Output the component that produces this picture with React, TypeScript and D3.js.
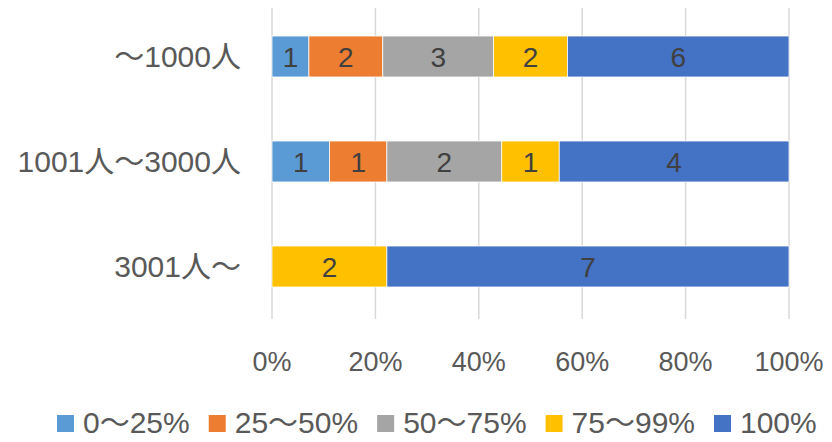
import React, { useEffect, useRef } from "react";
import * as d3 from "d3";

const categories = ["～1000人", "1001人～3000人", "3001人～"];
const seriesNames = ["0～25%", "25～50%", "50～75%", "75～99%", "100%"];
const seriesColors = ["#5B9BD5", "#ED7D31", "#A5A5A5", "#FFC000", "#4472C4"];
const s0 = [1, 1, 0];
const s1 = [2, 1, 0];
const s2 = [3, 2, 0];
const s3 = [2, 1, 2];
const s4 = [6, 4, 7];
const tickValues = [0, 0.2, 0.4, 0.6, 0.8, 1];

const W = 832;
const H = 442;
const FONT = "'Liberation Sans', 'Noto Sans CJK JP', sans-serif";

export default function App() {
  const ref = useRef<SVGSVGElement>(null);

  useEffect(() => {
    const svg = d3.select(ref.current);
    svg.selectAll("*").remove();

    const series = [s0, s1, s2, s3, s4];
    const rows = categories.map((c, i) => {
      const o: any = { cat: c };
      seriesNames.forEach((n, k) => (o[n] = series[k][i]));
      return o;
    });
    const stacked = d3.stack<any>().keys(seriesNames).offset(d3.stackOffsetExpand)(rows);

    const x = d3.scaleLinear().domain([0, 1]).range([272, 789]);
    const y = d3.scaleBand().domain(categories).range([4, 319]).paddingInner(0.61).paddingOuter(0.305);

    // gridlines
    svg.append("g")
      .selectAll("line")
      .data(tickValues)
      .join("line")
      .attr("x1", (d) => x(d))
      .attr("x2", (d) => x(d))
      .attr("y1", 4)
      .attr("y2", 319)
      .attr("stroke", "#D9D9D9")
      .attr("stroke-width", 1.5);

    // bars
    const layer = svg.append("g")
      .selectAll("g")
      .data(stacked)
      .join("g")
      .attr("fill", (d, i) => seriesColors[i]);

    layer.selectAll("rect")
      .data((d) => d.map((v) => ({ v, key: d.key })))
      .join("rect")
      .attr("x", (d) => x(d.v[0]))
      .attr("width", (d) => x(d.v[1]) - x(d.v[0]))
      .attr("y", (d) => y(d.v.data.cat)!)
      .attr("height", y.bandwidth())
      .attr("stroke", "#fff")
      .attr("stroke-width", 0.75);

    // data labels
    layer.selectAll("text")
      .data((d) => d.map((v) => ({ v, key: d.key })).filter((e) => e.v.data[e.key] > 0))
      .join("text")
      .attr("x", (d) => (x(d.v[0]) + x(d.v[1])) / 2)
      .attr("y", (d) => y(d.v.data.cat)! + y.bandwidth() / 2)
      .attr("dy", "0.36em")
      .attr("text-anchor", "middle")
      .attr("fill", "#404040")
      .attr("font-family", FONT)
      .attr("font-size", 28)
      .text((d) => d.v.data[d.key]);

    // category labels
    svg.append("g")
      .selectAll("text")
      .data(categories)
      .join("text")
      .attr("x", 241)
      .attr("y", (d) => y(d)! + y.bandwidth() / 2)
      .attr("dy", "0.36em")
      .attr("text-anchor", "end")
      .attr("fill", "#595959")
      .attr("font-family", FONT)
      .attr("font-size", 30)
      .text((d) => d);

    // x tick labels
    svg.append("g")
      .selectAll("text")
      .data(tickValues)
      .join("text")
      .attr("x", (d) => x(d))
      .attr("y", 371)
      .attr("text-anchor", "middle")
      .attr("fill", "#595959")
      .attr("font-family", FONT)
      .attr("font-size", 27)
      .text((d) => d3.format(".0%")(d));

    // legend
    const lg = svg.append("g");
    const items = lg.selectAll("g").data(seriesNames).join("g");
    items.append("rect")
      .attr("width", 17)
      .attr("height", 17)
      .attr("y", 415)
      .attr("fill", (d, i) => seriesColors[i]);
    items.append("text")
      .attr("x", 26)
      .attr("y", 433)
      .attr("fill", "#595959")
      .attr("font-family", FONT)
      .attr("font-size", 30)
      .text((d) => d);
    let cx = 57;
    items.each(function () {
      const g = d3.select(this);
      g.attr("transform", `translate(${cx},0)`);
      const w = (g.select("text").node() as SVGTextElement).getComputedTextLength();
      cx += 26 + w + 19;
    });
  }, []);

  return (
    <svg ref={ref} width={W} height={H} style={{ display: "block", margin: "-8px", background: "#fff" }} />
  );
}
